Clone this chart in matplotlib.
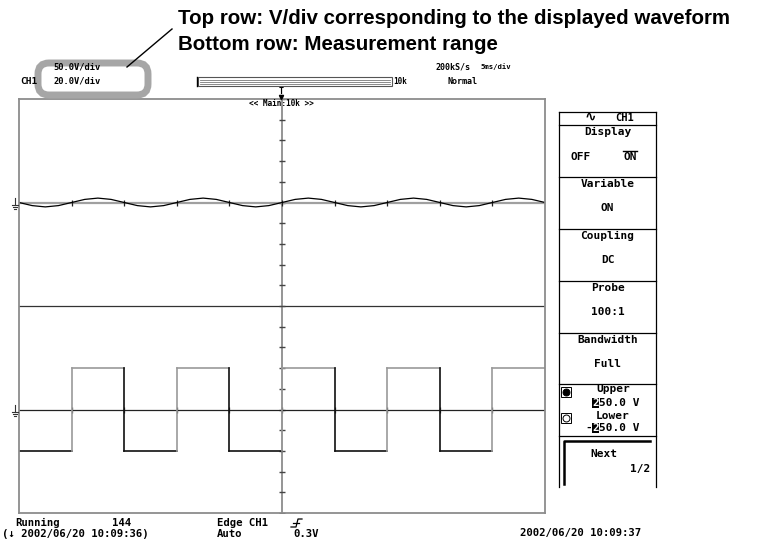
import matplotlib
matplotlib.use('Agg')
import numpy as np
import matplotlib.pyplot as plt
from matplotlib.patches import FancyBboxPatch, Rectangle

# waveform data: time in ms (5 ms/div), level in divisions from the trace ground
sine_t = [0.0, 1.25, 2.5, 3.75, 5.0, 6.25, 7.5, 8.75, 10.0, 11.25, 12.5, 13.75,
          15.0, 16.25, 17.5, 18.75, 20.0, 21.25, 22.5, 23.75, 25.0, 26.25, 27.5,
          28.75, 30.0, 31.25, 32.5, 33.75, 35.0, 36.25, 37.5, 38.75, 40.0, 41.25,
          42.5, 43.75, 45.0, 46.25, 47.5, 48.75, 50.0]
sine_v = [0, -0.06, -0.085, -0.06, 0, 0.06, 0.085, 0.06,
          0, -0.06, -0.085, -0.06, 0, 0.06, 0.085, 0.06,
          0, -0.06, -0.085, -0.06, 0, 0.06, 0.085, 0.06,
          0, -0.06, -0.085, -0.06, 0, 0.06, 0.085, 0.06,
          0, -0.06, -0.085, -0.06, 0, 0.06, 0.085, 0.06, 0]
square_t = [0, 5, 10, 15, 20, 25, 30, 35, 40, 45, 50]
square_v = [-0.8, 0.8, -0.8, 0.8, -0.8, 0.8, -0.8, 0.8, -0.8, 0.8]
top_ground = 2.0
bottom_ground = -2.0

# menu on the right
menu_titles = ['Display', 'Variable', 'Coupling', 'Probe', 'Bandwidth']
menu_values = [None, 'ON', 'DC', '100:1', 'Full']

W, H = 758, 543
MONO = ['DejaVu Sans Mono', 'DejaVu Sans']
GREY = '#8c8c8c'

fig = plt.figure(figsize=(W / 100, H / 100), dpi=100)

# scope screen
ax = fig.add_axes([19 / W, (H - 513) / H, 526 / W, 414 / H])
ax.set_xlim(0, 50)
ax.set_ylim(-4, 4)
ax.set_xticks([])
ax.set_yticks([])
for s in ax.spines.values():
    s.set_color(GREY)
    s.set_linewidth(1.3)

ax.axhline(0, color='#333333', lw=0.9)
ax.axvline(25, color=GREY, lw=1.3)
ax.plot([25] * 21, np.linspace(-4, 4, 21), ls='none', marker='_', ms=5, mew=1, color='#444444')
ax.axhline(top_ground, color='#a0a0a0', lw=1.6)
ax.axhline(bottom_ground, color='#222222', lw=0.9)
ax.plot(square_t[1:-1], [top_ground] * 9, ls='none', marker='|', ms=4, mew=0.9, color='#222222')
ax.plot(square_t[1:-1], [bottom_ground] * 9, ls='none', marker='|', ms=4, mew=0.9, color='#222222')

ax.plot(sine_t, [top_ground + v for v in sine_v], color='black', lw=0.9)

for i, lev in enumerate(square_v):
    c = '#9a9a9a' if lev > 0 else '#111111'
    ax.plot([square_t[i], square_t[i + 1]], [bottom_ground + lev] * 2, color=c, lw=1.2)
    if i + 1 < len(square_v):
        nxt = square_v[i + 1]
        ce = '#9a9a9a' if nxt > lev else '#111111'
        ax.plot([square_t[i + 1]] * 2, [bottom_ground + lev, bottom_ground + nxt], color=ce, lw=1.2)

# overlay in pixel units for labels and the menu
ov = fig.add_axes([0, 0, 1, 1])
ov.set_xlim(0, W)
ov.set_ylim(H, 0)
ov.axis('off')
ov.patch.set_alpha(0)


def mono(x, y, s, size=7.5, ha='left', **kw):
    ov.text(x, y, s, fontsize=size, family=MONO, weight='bold', ha=ha, va='center', **kw)


# callout
ov.text(178, 19, 'Top row: V/div corresponding to the displayed waveform',
        fontsize=14.8, family='Liberation Sans', weight='bold', ha='left', va='center')
ov.text(178, 45, 'Bottom row: Measurement range',
        fontsize=14.8, family='Liberation Sans', weight='bold', ha='left', va='center')
ov.plot([127, 172], [67, 29], color='black', lw=1)
ov.add_patch(FancyBboxPatch((38, 63), 110, 32, boxstyle='round,pad=0,rounding_size=11',
                            fill=False, ec='#a6a6a6', lw=5))

# header
mono(53, 67, '50.0V/div', 6.3)
mono(53, 81, '20.0V/div', 6.3)
mono(20, 81, 'CH1', 6.8)
ov.add_patch(Rectangle((198, 77), 194, 9, fill=False, ec='#555555', lw=0.8))
for yy in (79.5, 81.5, 83.5):
    ov.plot([200, 390], [yy, yy], color='#777777', lw=0.6)
ov.plot([197, 197], [77, 86], color='black', lw=1)
mono(393, 81, '10k', 5.5)
mono(435, 67, '200kS/s', 6.0)
mono(480, 67, '5ms/div', 5.2)
mono(448, 82, 'Normal', 6.0)
mono(281, 92, 'T', 6.0, ha='center')
ov.plot([281], [97], marker='v', ms=3, color='black')
mono(281, 104, '<< Main:10k >>', 5.6, ha='center')

# ground markers at the left
for gy in (203, 410):
    ov.plot([15, 15], [gy - 5, gy + 2], color='#333333', lw=0.8)
    ov.plot([12, 18], [gy + 2, gy + 2], color='#333333', lw=0.8)
    ov.plot([13, 17], [gy + 4, gy + 4], color='#333333', lw=0.8)
    ov.plot([14, 16], [gy + 6, gy + 6], color='#333333', lw=0.8)

# menu panel
px0, px1 = 559, 656
rows = [112, 125, 177, 229, 281, 333, 384, 436]
for yy in rows:
    ov.plot([px0, px1], [yy, yy], color='black', lw=0.9)
ov.plot([px0, px0], [112, 487], color='black', lw=0.9)
ov.plot([px1, px1], [112, 487], color='black', lw=0.9)
cx = (px0 + px1) / 2
ov.text(590, 117, '\u223f', fontsize=10, family=MONO, weight='bold', ha='center', va='center')
mono(615, 118, 'CH1', 7.5)
for i, title in enumerate(menu_titles):
    top = rows[i + 1]
    mono(cx, top + 7, title, 8, ha='center')
    if menu_values[i] is not None:
        mono(cx, top + 31, menu_values[i], 8, ha='center')
mono(581, 157, 'OFF', 8, ha='center')
mono(630, 157, 'ON', 8, ha='center')
ov.plot([623, 637], [151, 151], color='black', lw=1)

cw = 0.602 * 8 * 100 / 72  # width of one mono char in px
mono(613, 389, 'Upper', 8, ha='center')
mono(592, 403, '2', 8, color='white', bbox=dict(fc='black', ec='none', pad=0))
mono(592 + cw, 403, '50.0 V', 8)
mono(613, 416, 'Lower', 8, ha='center')
mono(592 - cw, 428, '-', 8)
mono(592, 428, '2', 8, color='white', bbox=dict(fc='black', ec='none', pad=0))
mono(592 + cw, 428, '50.0 V', 8)
for ky, filled in ((392, True), (418, False)):
    ov.add_patch(Rectangle((561, ky - 5), 10, 10, fill=False, ec='black', lw=0.7))
    ov.plot([566], [ky], marker='o', ms=5, mfc='black' if filled else 'white', mec='black', mew=0.7)

ov.plot([564, 564, 650], [484, 441, 441], color='black', lw=1.8)
mono(604, 454, 'Next', 8, ha='center')
mono(640, 469, '1/2', 8, ha='center')

# status line
mono(15, 523, 'Running', 7.7)
mono(112, 523, '144', 7.7)
mono(217, 523, 'Edge CH1', 7.7)
ov.plot([291, 296, 298, 302], [527, 527, 519, 519], color='black', lw=0.9)
ov.plot([293, 299], [523, 523], color='black', lw=0.9)
mono(2, 534, '(\u2193 2002/06/20 10:09:36)', 7.7)
mono(217, 534, 'Auto', 7.7)
mono(293, 534, '0.3V', 7.7)
mono(520, 533, '2002/06/20 10:09:37', 7.7)

fig.savefig('out.png', dpi=100)
